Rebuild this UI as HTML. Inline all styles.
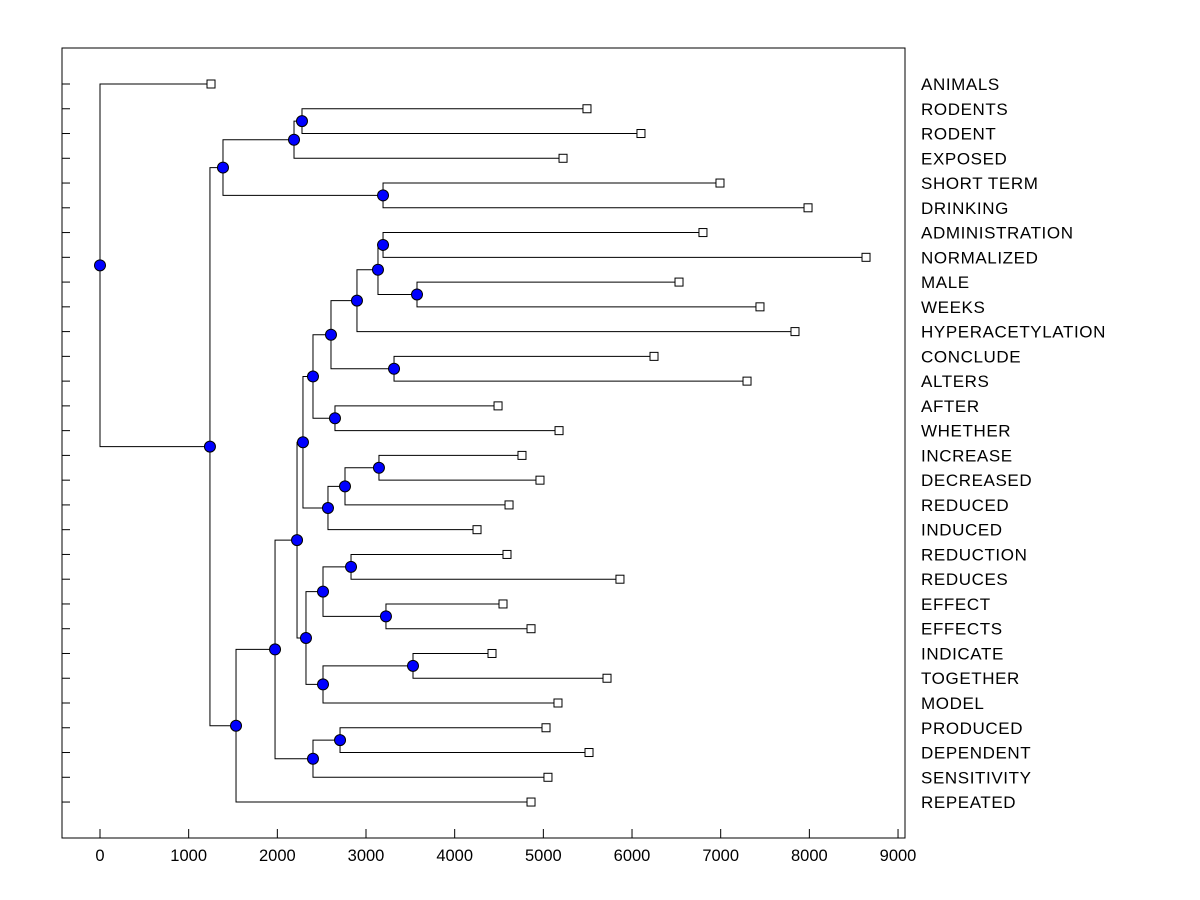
<!DOCTYPE html>
<html><head><meta charset="utf-8"><style>
body{margin:0;background:#fff;}
svg{display:block;font-family:"Liberation Sans",Arial,sans-serif;}
</style></head><body>
<svg id="chart" width="1200" height="900">
<rect x="62" y="48" width="843" height="790" fill="none" stroke="#000" stroke-width="1"/>
<g id="g"></g>
</svg>
<script>
const leafLabels=["ANIMALS","RODENTS","RODENT","EXPOSED","SHORT TERM","DRINKING","ADMINISTRATION","NORMALIZED","MALE","WEEKS","HYPERACETYLATION","CONCLUDE","ALTERS","AFTER","WHETHER","INCREASE","DECREASED","REDUCED","INDUCED","REDUCTION","REDUCES","EFFECT","EFFECTS","INDICATE","TOGETHER","MODEL","PRODUCED","DEPENDENT","SENSITIVITY","REPEATED"];
const leafValues=[1252,5492,6101,5222,6992,7985,6800,8639,6530,7443,7838,6248,7297,4489,5177,4759,4962,4613,4252,4590,5864,4545,4861,4421,5718,5165,5030,5515,5052,4861];
const mergeChildren=[
 [-2,-3],[1,-4],[-5,-6],[2,3],[-7,-8],[-9,-10],[5,6],[7,-11],[-12,-13],[8,9],
 [-14,-15],[10,11],[-16,-17],[13,-18],[14,-19],[12,15],[-20,-21],[-22,-23],[17,18],[-24,-25],
 [20,-26],[19,21],[16,22],[-27,-28],[24,-29],[23,25],[26,-30],[4,27],[-1,28]
];
const mergeHeights=[2278,2188,3192,1387,3192,3575,3135,2898,3316,2605,2650,2402,3146,2763,2571,2289,2831,3225,2515,3530,2515,2323,2222,2707,2402,1974,1534,1240,0];
const xTicks=[0,1000,2000,3000,4000,5000,6000,7000,8000,9000];

const NS="http://www.w3.org/2000/svg";
const g=document.getElementById('g');
const xs=v=>100+v*0.08867;
const ys=i=>84+i*24.76;
function mk(t,a){const e=document.createElementNS(NS,t);for(const k in a)e.setAttribute(k,a[k]);g.appendChild(e);return e;}
xTicks.forEach(v=>{
 const l=mk('line',{x1:xs(v),x2:xs(v),y1:838,y2:829,stroke:'#000'});
 
 
 const t=mk('text',{x:xs(v),y:861,'text-anchor':'middle','font-size':16.5});
 t.textContent=v;
 
 
});
leafLabels.forEach((s,i)=>{
 const l=mk('line',{x1:62,x2:70,y1:ys(i),y2:ys(i),stroke:'#000'});
 
 
 const t=mk('text',{x:921,y:ys(i)+6,'font-size':17,'letter-spacing':'0.6'});
 t.textContent=s;
 
 
});
const pos=m=>{
 if(m<0){return {x:xs(leafValues[-m-1]),y:ys(-m-1)};}
 return nodes[m-1];
};
const nodes=[];
const links=[];
mergeChildren.forEach((c,k)=>{
 const a=pos(c[0]),b=pos(c[1]);
 const x=xs(mergeHeights[k]);
 nodes.push({x:x,y:(a.y+b.y)/2});
 links.push([x,a,b]);
});
links.forEach(([x,a,b])=>{
 const p=mk('path',{d:`M${a.x},${a.y}H${x}V${b.y}H${b.x}`,fill:'none',stroke:'#000','stroke-width':1});
 
 
});
leafLabels.forEach((s,i)=>{
 const r=mk('rect',{x:xs(leafValues[i])-4,y:ys(i)-4,width:8,height:8,fill:'#fff',stroke:'#000'});
 
 
});
nodes.forEach(n=>{
 const c=mk('circle',{cx:n.x,cy:n.y,r:5.5,fill:'#0000ff',stroke:'#000','stroke-width':1});
 
 
});
</script>
</body></html>
